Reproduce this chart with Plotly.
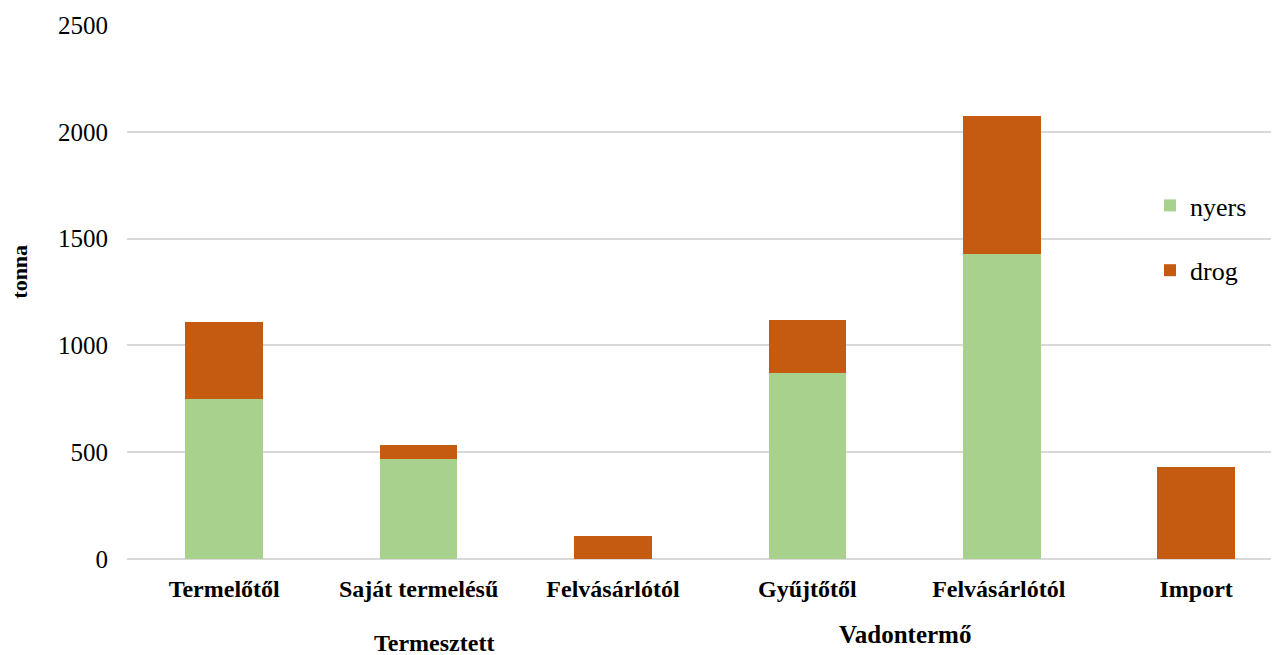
import plotly.graph_objects as go

categories = ["Termelőtől", "Saját termelésű", "Felvásárlótól", "Gyűjtőtől", "Felvásárlótól ", "Import"]
nyers = [750, 470, 0, 872, 1428, 0]
drog = [358, 66, 110, 248, 644, 432]
y_ticks = [0, 500, 1000, 1500, 2000, 2500]
groups = ["Termesztett", "Vadontermő"]

FONT = "Liberation Serif"

fig = go.Figure()
fig.add_trace(go.Bar(x=categories, y=nyers, name="nyers", marker_color="#a9d18e",
                     marker_line_width=0, legendgroup="a"))
fig.add_trace(go.Bar(x=categories, y=drog, name="drog", marker_color="#c55a11",
                     marker_line_width=0, legendgroup="b"))

fig.update_layout(
    width=1271, height=647,
    barmode="stack", bargap=0.6,
    plot_bgcolor="white", paper_bgcolor="white",
    margin=dict(l=119, r=0, t=17, b=96),
    font=dict(family=FONT, color="black", size=20),
    showlegend=True,
    legend=dict(x=0.888, y=0.706, xanchor="left", yanchor="top",
                traceorder="grouped", tracegroupgap=28,
                font=dict(family=FONT, size=26), bgcolor="rgba(0,0,0,0)"),
    xaxis=dict(range=[-0.5, 5.426], showgrid=False, showline=False, ticks="",
               tickfont=dict(family=FONT, size=24, weight="bold"), ticklabelstandoff=13),
    yaxis=dict(range=[0, 2500], tickvals=y_ticks, showgrid=True, gridcolor="#d9d9d9",
               gridwidth=1.5, zeroline=True, zerolinecolor="#d9d9d9", zerolinewidth=1.5,
               showline=False, ticks="", ticklabelstandoff=18,
               tickfont=dict(family=FONT, size=25)),
)

# convert page-pixel placement to paper coordinates (page has an 8px body margin)
def px_x(p):
    return (p - 8 - 119) / 1152
def px_y(p):
    return (559.3 - p) / 534

fig.add_annotation(text="<b>tonna</b>", x=px_x(20), y=px_y(272), xref="paper", yref="paper",
                   showarrow=False, textangle=-90, font=dict(family=FONT, size=22),
                   xanchor="center", yanchor="middle")
fig.add_annotation(text="<b>" + groups[0] + "</b>", x=px_x(434), y=px_y(643), xref="paper", yref="paper",
                   showarrow=False, font=dict(family=FONT, size=24), xanchor="center", yanchor="middle")
fig.add_annotation(text="<b>" + groups[1] + "</b>", x=px_x(905), y=px_y(635), xref="paper", yref="paper",
                   showarrow=False, font=dict(family=FONT, size=25), xanchor="center", yanchor="middle")

fig.write_html("out.html")
